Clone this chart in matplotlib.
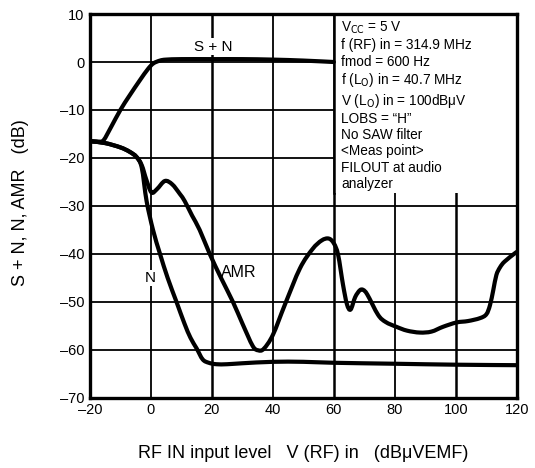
import numpy as np
import matplotlib.pyplot as plt
from matplotlib.patches import Rectangle, PathPatch
from matplotlib.path import Path

plt.rcParams['font.family'] = ['Liberation Sans', 'DejaVu Sans']

# S + N curve
sn_x = [-20, -17, -15.5, -13, -10, -7, -3.6, -1, 0.8, 3, 5, 10, 20, 30, 40, 50, 60]
sn_y = [-16.5, -16.6, -16.3, -13.5, -10, -7, -3.8, -1.5, -0.3, 0.3, 0.5, 0.6, 0.6, 0.6, 0.5, 0.3, 0.0]

# N curve
n_x = [-20, -15, -10, -7, -4.7, -3, -1.4, 0.7, 3, 5.5, 8.4, 11, 13, 15, 17, 19, 21.5, 25, 30, 40, 50, 60, 80, 100, 120]
n_y = [-16.5, -16.9, -17.8, -18.7, -19.8, -22, -29, -35, -40, -45, -50, -54.5, -57.5, -59.7, -62, -62.7, -63,
       -63, -62.8, -62.5, -62.5, -62.7, -62.9, -63.1, -63.2]

# AMR curve
amr_x = [-20, -15, -10, -7, -4.7, -3, -1.5, 0.2, 2, 4.6, 7, 9.5, 11.1, 13.5, 16, 19.3, 23, 26.9, 30, 33.4,
         35.2, 37, 40, 44, 48.9, 53, 56, 58.3, 60, 61.4, 63, 64.3, 65.5, 67, 68.5, 69.6, 71, 74.5, 77, 80.5,
         84, 88.2, 92, 95.8, 100.2, 104, 107.9, 110, 111.2, 112.3, 113.3, 114.5, 116, 119.3, 120]
amr_y = [-16.5, -16.9, -17.8, -18.7, -19.8, -21.5, -24.5, -27.2, -26.5, -24.8, -25.5, -27.5, -29, -32, -35,
         -40, -45, -50, -54.5, -59.2, -60.1, -59.8, -56.9, -50.5, -43, -39, -37.2, -36.8, -37.8, -40.2, -46.4,
         -50.5, -51.6, -49, -47.6, -47.5, -48.5, -52.7, -54.2, -55.2, -56, -56.4, -56.2, -55.2, -54.3, -54,
         -53.4, -52.6, -50.7, -47.5, -44.4, -42.8, -41.6, -39.9, -39.6]

x_ticks = [-20, 0, 20, 40, 60, 80, 100, 120]
y_ticks = [10, 0, -10, -20, -30, -40, -50, -60, -70]

conditions = ('V$_{\\rm CC}$ = 5 V\n'
              'f (RF) in = 314.9 MHz\n'
              'fmod = 600 Hz\n'
              'f (L$_{\\rm O}$) in = 40.7 MHz\n'
              'V (L$_{\\rm O}$) in = 100dB\u03bcV\n'
              'LOBS = \u201cH\u201d\n'
              'No SAW filter\n'
              '<Meas point>\n'
              'FILOUT at audio\n'
              'analyzer')


def smooth_path(xs, ys):
    # catmull-rom through the read points, drawn as cubic bezier segments
    p = np.column_stack([xs, ys]).astype(float)
    p = np.vstack([p[0], p, p[-1]])
    verts = [p[1]]
    codes = [Path.MOVETO]
    for i in range(1, len(p) - 2):
        c1 = p[i] + (p[i + 1] - p[i - 1]) / 6
        c2 = p[i + 1] - (p[i + 2] - p[i]) / 6
        verts += [c1, c2, p[i + 1]]
        codes += [Path.CURVE4] * 3
    return Path(verts, codes)


fig = plt.figure(figsize=(5.35, 4.68), dpi=100)
ax = fig.add_axes([0.168, 0.15, 0.798, 0.82])

ax.set_xlim(-20, 120)
ax.set_ylim(-70, 10)
ax.set_xticks(x_ticks)
ax.set_yticks(y_ticks)
ax.set_xticklabels([str(v).replace('-', '\u2013') for v in x_ticks])
ax.set_yticklabels([str(v).replace('-', '\u2013') for v in y_ticks])
ax.tick_params(length=0, labelsize=10.5, pad=4)

for xv in x_ticks[1:-1]:
    lw = 1.8 if xv in (20, 60, 100) else 1.3
    ax.axvline(xv, color='black', lw=lw, zorder=1)
for yv in y_ticks[1:-1]:
    ax.axhline(yv, color='black', lw=1.3, zorder=1)

# white box for the conditions
ax.add_patch(Rectangle((60, -27.3), 60, 37.3, facecolor='white', edgecolor='none', zorder=2))
ax.plot([60, 60], [-27.3, 10], color='black', lw=1.8, zorder=3)
ax.text(62.5, 8.8, conditions, fontsize=9.8, va='top', ha='left', linespacing=1.2, zorder=4)

for xs, ys in [(sn_x, sn_y), (n_x, n_y), (amr_x, amr_y)]:
    ax.add_patch(PathPatch(smooth_path(xs, ys), facecolor='none', edgecolor='black', lw=3.0,
                           joinstyle='round', capstyle='round', zorder=5))

lbl = dict(ha='center', va='center', zorder=4,
           bbox=dict(facecolor='white', edgecolor='none', pad=1))
ax.text(20.5, 3.2, 'S + N', fontsize=11, **lbl)
ax.text(-0.2, -45, 'N', fontsize=11, **lbl)
ax.text(28.8, -43.8, 'AMR', fontsize=11.5, **lbl)

for sp in ax.spines.values():
    sp.set_linewidth(2.4)
    sp.set_zorder(6)

fig.text(0.038, 0.566, 'S + N, N, AMR   (dB)', rotation=90, ha='center', va='center', fontsize=13)
fig.text(0.567, 0.032, 'RF IN input level   V (RF) in   (dB\u03bcVEMF)', ha='center', va='center', fontsize=13)

fig.savefig('out.png', dpi=100)
